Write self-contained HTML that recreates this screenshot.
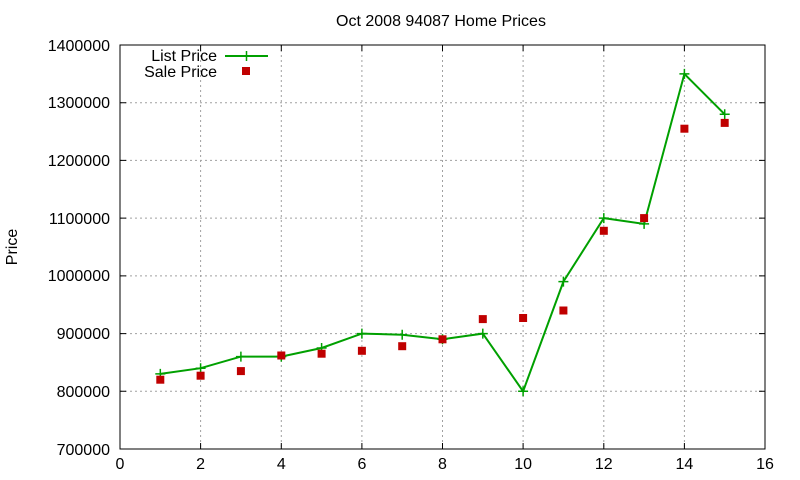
<!DOCTYPE html>
<html><head><meta charset="utf-8"><style>body{margin:0;background:#fff}svg{display:block}text{font-family:"Liberation Sans",sans-serif;font-size:16px;fill:#000}</style></head><body>
<svg width="800" height="480" viewBox="0 0 800 480" xmlns="http://www.w3.org/2000/svg">
<rect width="800" height="480" fill="#fff"/>
<g stroke="#a0a0a0" stroke-width="1" stroke-dasharray="2,3">
<line x1="120" y1="102.7" x2="765" y2="102.7"/><line x1="120" y1="160.4" x2="765" y2="160.4"/><line x1="120" y1="218.1" x2="765" y2="218.1"/><line x1="120" y1="275.9" x2="765" y2="275.9"/><line x1="120" y1="333.6" x2="765" y2="333.6"/><line x1="120" y1="391.3" x2="765" y2="391.3"/>
<line x1="200.6" y1="45" x2="200.6" y2="449"/><line x1="281.3" y1="45" x2="281.3" y2="449"/><line x1="361.9" y1="45" x2="361.9" y2="449"/><line x1="442.5" y1="45" x2="442.5" y2="449"/><line x1="523.1" y1="45" x2="523.1" y2="449"/><line x1="603.8" y1="45" x2="603.8" y2="449"/><line x1="684.4" y1="45" x2="684.4" y2="449"/>
</g>
<rect x="120" y="45" width="645" height="404" fill="none" stroke="#000"/>
<g stroke="#000">
<path d="M120 102.7h6M120 160.4h6M120 218.1h6M120 275.9h6M120 333.6h6M120 391.3h6M765 102.7h-6M765 160.4h-6M765 218.1h-6M765 275.9h-6M765 333.6h-6M765 391.3h-6"/>
<path d="M200.6 449v-6M281.3 449v-6M361.9 449v-6M442.5 449v-6M523.1 449v-6M603.8 449v-6M684.4 449v-6M200.6 45v6M281.3 45v6M361.9 45v6M442.5 45v6M523.1 45v6M603.8 45v6M684.4 45v6"/>
</g>
<g text-anchor="end">
<text x="110" y="51">1400000</text><text x="110" y="108">1300000</text><text x="110" y="166">1200000</text><text x="110" y="224">1100000</text><text x="110" y="281">1000000</text><text x="110" y="339">900000</text><text x="110" y="397">800000</text><text x="110" y="455">700000</text>
</g>
<g text-anchor="middle">
<text x="120" y="469">0</text><text x="200.6" y="469">2</text><text x="281.3" y="469">4</text><text x="361.9" y="469">6</text><text x="442.5" y="469">8</text><text x="523.1" y="469">10</text><text x="603.8" y="469">12</text><text x="684.4" y="469">14</text><text x="765" y="469">16</text>
<text x="441" y="26">Oct 2008 94087 Home Prices</text>
<text transform="translate(17,247) rotate(-90)">Price</text>
</g>
<text x="217" y="61" text-anchor="end">List Price</text>
<text x="217" y="77" text-anchor="end">Sale Price</text>
<line x1="225" y1="56" x2="268" y2="56" stroke="#00a000" stroke-width="2"/>
<path d="M246.5 51v10M241.5 56h10" stroke="#00a000" stroke-width="1.5"/>
<rect x="242" y="67" width="8" height="8" fill="#c00000"/>
<polyline fill="none" stroke="#00a000" stroke-width="2" points="160.3,373.9 200.6,368.2 240.9,356.6 281.3,356.6 321.6,348 361.9,333.6 402.2,334.7 442.5,339.3 482.8,333.6 523.1,391.3 563.4,281.6 603.8,218.1 644.1,223.9 684.4,73.9 724.7,114.3"/>
<g stroke="#00a000" stroke-width="1.5" fill="none">
<path d="M160.3 368.9v10M155.3 373.9h10M200.6 363.2v10M195.6 368.2h10M240.9 351.6v10M235.9 356.6h10M281.3 351.6v10M276.3 356.6h10M321.6 343v10M316.6 348h10M361.9 328.6v10M356.9 333.6h10M402.2 329.7v10M397.2 334.7h10M442.5 334.3v10M437.5 339.3h10M482.8 328.6v10M477.8 333.6h10M523.1 386.3v10M518.1 391.3h10M563.4 276.6v10M558.4 281.6h10M603.8 213.1v10M598.8 218.1h10M644.1 218.9v10M639.1 223.9h10M684.4 68.9v10M679.4 73.9h10M724.7 109.3v10M719.7 114.3h10"/>
</g>
<g fill="#c00000">
<rect x="156.3" y="375.7" width="8" height="8"/><rect x="196.6" y="371.7" width="8" height="8"/><rect x="236.9" y="367.1" width="8" height="8"/><rect x="277.3" y="351.5" width="8" height="8"/><rect x="317.6" y="349.7" width="8" height="8"/><rect x="357.9" y="346.8" width="8" height="8"/><rect x="398.2" y="342.2" width="8" height="8"/><rect x="438.5" y="335.3" width="8" height="8"/><rect x="478.8" y="315.1" width="8" height="8"/><rect x="519.1" y="314" width="8" height="8"/><rect x="559.4" y="306.5" width="8" height="8"/><rect x="599.8" y="226.8" width="8" height="8"/><rect x="640.1" y="214.1" width="8" height="8"/><rect x="680.4" y="124.7" width="8" height="8"/><rect x="720.7" y="118.9" width="8" height="8"/>
</g>
</svg>
</body></html>
